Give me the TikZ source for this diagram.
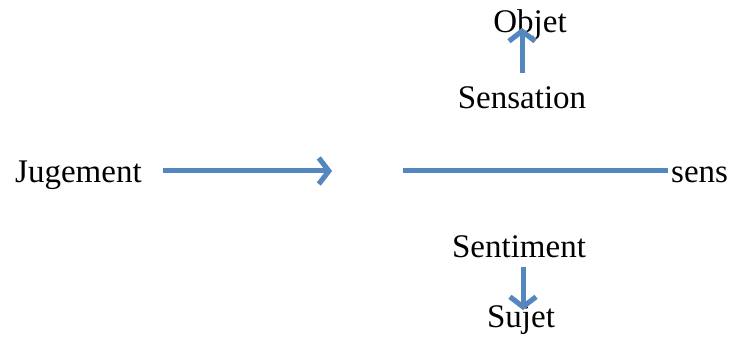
\documentclass[tikz,border=0pt]{standalone}
\usepackage{fontspec}
\setmainfont{Liberation Serif}
\usetikzlibrary{arrows.meta}
\definecolor{arrowblue}{RGB}{84,134,192}
\definecolor{shadowgray}{RGB}{200,200,200}
\tikzset{
  lbl/.style={inner sep=0pt, font=\fontsize{33}{39}\selectfont},
  conn/.style={draw=arrowblue, line width=5pt},
  shade/.style={draw=shadowgray, line width=5pt},
  tip/.style={-{Straight Barb[length=10pt,width=26pt]}}
}
\begin{document}
\begin{tikzpicture}[x=1pt,y=1pt]
\useasboundingbox (0,0) rectangle (736,342);
\node[lbl, anchor=base] (objet) at (530,309) {Objet};
\node[lbl, anchor=base] (sensation) at (522,233) {Sensation};
\node[lbl, anchor=base west] (jugement) at (15,159) {Jugement};
\node[lbl, anchor=base west] (sens) at (671,159) {sens};
\node[lbl, anchor=base] (sentiment) at (519,84) {Sentiment};
\node[lbl, anchor=base] (sujet) at (521,14) {Sujet};
\coordinate (jA) at (163,171);
\coordinate (jB) at (332,171);
\coordinate (lA) at (403,171);
\coordinate (lB) at (668,171);
\coordinate (uA) at (522,269);
\coordinate (uB) at (522,314);
\coordinate (dA) at (523,75);
\coordinate (dB) at (523,32);
\begin{scope}[shift={(1pt,-2.5pt)}]
\draw[shade, tip] (jA) -- (jB);
\draw[shade] (lA) -- (lB);
\draw[shade, tip] (uA) -- (uB);
\draw[shade, tip] (dA) -- (dB);
\end{scope}
\draw[conn, tip] (jA) -- (jB);
\draw[conn] (lA) -- (lB);
\draw[conn, tip] (uA) -- (uB);
\draw[conn, tip] (dA) -- (dB);
\end{tikzpicture}
\end{document}
